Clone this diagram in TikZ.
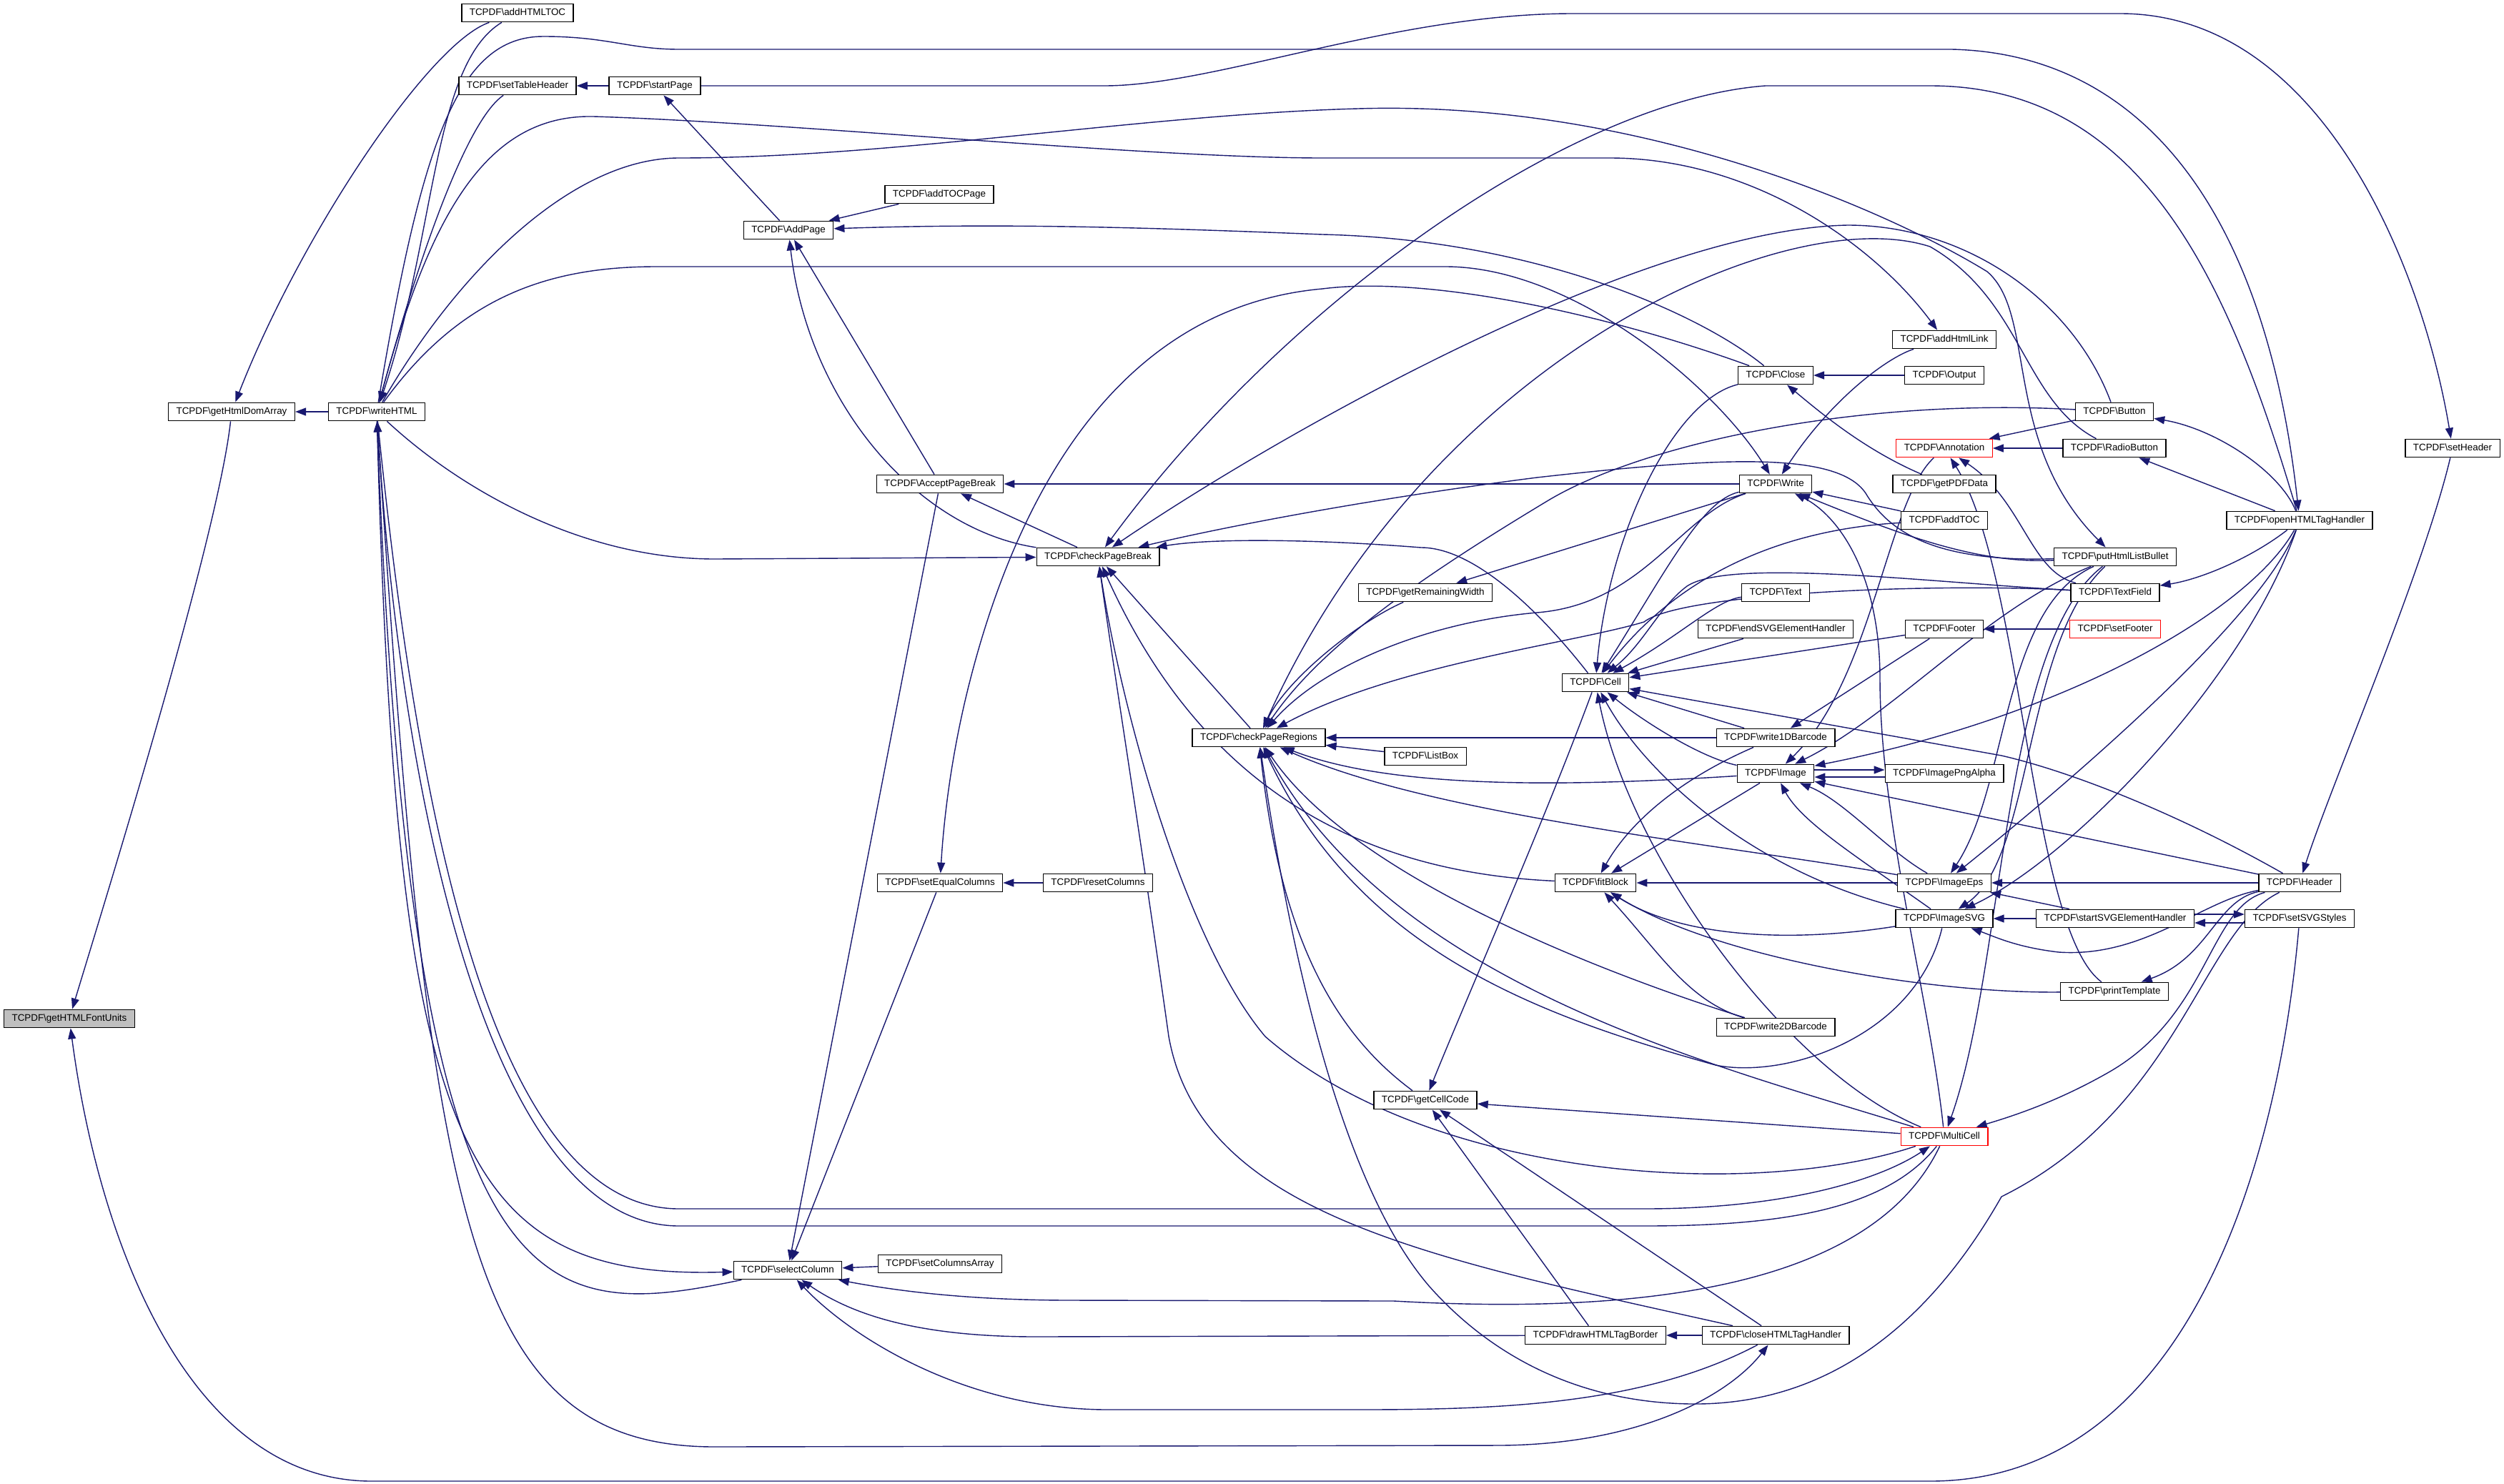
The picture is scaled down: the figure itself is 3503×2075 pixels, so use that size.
\documentclass[tikz,border=0pt]{standalone}
\usepackage{fontspec}
\setmainfont{Liberation Sans}
\usetikzlibrary{arrows.meta}
\definecolor{edgeblue}{HTML}{191970}
\definecolor{rootgray}{HTML}{BFBFBF}
\newcommand\nodefont{\fontsize{13.4}{16}\selectfont}
\newcommand\bs{\textbackslash}
\pgfdeclarelayer{bglayer}
\pgfdeclarelayer{edges}
\pgfsetlayers{bglayer,edges,main}
\tikzset{
  fn/.style={draw=black, line width=1.3pt, fill=white, font=\nodefont, inner xsep=11pt, inner ysep=0pt, minimum height=25.5pt, text height=9.6pt, text depth=2.8pt},
  root/.style={fn, fill=rootgray},
  trunc/.style={fn, draw=red},
  e/.style={draw=edgeblue, line width=1.4pt, -{Triangle[length=15pt,width=11pt]}}
}
\begin{document}
\begin{tikzpicture}[x=1pt,y=-1pt]
\useasboundingbox (0,0) rectangle (3503,2075);
\begin{pgfonlayer}{bglayer}
\fill[white] (0,0) rectangle (3503,2075);
\end{pgfonlayer}
% nodes
\node[root] (FU) at (97,1425) {TCPDF\bs getHTMLFontUnits};
\node[fn] (DOM) at (324,576) {TCPDF\bs getHtmlDomArray};
\node[fn] (WH) at (527,576) {TCPDF\bs writeHTML};
\node[fn] (TOC) at (724,18) {TCPDF\bs addHTMLTOC};
\node[fn] (STH) at (724,120) {TCPDF\bs setTableHeader};
\node[fn] (SP) at (916,120) {TCPDF\bs startPage};
\node[fn] (ATP) at (1314,272) {TCPDF\bs addTOCPage};
\node[fn] (AP) at (1103,322) {TCPDF\bs AddPage};
\node[fn] (APB) at (1315,677) {TCPDF\bs AcceptPageBreak};
\node[fn] (CPB) at (1536,779) {TCPDF\bs checkPageBreak};
\node[fn] (CPR) at (1761,1032) {TCPDF\bs checkPageRegions};
\node[fn] (SEC) at (1315,1235) {TCPDF\bs setEqualColumns};
\node[fn] (RC) at (1536,1235) {TCPDF\bs resetColumns};
\node[fn] (SC) at (1102,1777) {TCPDF\bs selectColumn};
\node[fn] (SCA) at (1315,1768) {TCPDF\bs setColumnsArray};
\node[fn] (GRW) at (1994,829) {TCPDF\bs getRemainingWidth};
\node[fn] (LB) at (1994,1058) {TCPDF\bs ListBox};
\node[fn] (GCC) at (1994,1539) {TCPDF\bs getCellCode};
\node[fn] (DHB) at (2232,1868) {TCPDF\bs drawHTMLTagBorder};
\node[fn] (CHT) at (2484,1868) {TCPDF\bs closeHTMLTagHandler};
\node[fn] (CELL) at (2232,955) {TCPDF\bs Cell};
\node[fn] (FB) at (2232,1235) {TCPDF\bs fitBlock};
\node[fn] (W2D) at (2484,1437) {TCPDF\bs write2DBarcode};
\node[fn] (CL) at (2484,525) {TCPDF\bs Close};
\node[fn] (WR) at (2484,677) {TCPDF\bs Write};
\node[fn] (TX) at (2484,829) {TCPDF\bs Text};
\node[fn] (ESV) at (2484,880) {TCPDF\bs endSVGElementHandler};
\node[fn] (W1D) at (2484,1032) {TCPDF\bs write1DBarcode};
\node[fn] (IMG) at (2484,1082) {TCPDF\bs Image};
\node[fn] (AHL) at (2720,475) {TCPDF\bs addHtmlLink};
\node[fn] (OUT) at (2720,525) {TCPDF\bs Output};
\node[trunc] (ANN) at (2720,627) {TCPDF\bs Annotation};
\node[fn] (PDF) at (2720,677) {TCPDF\bs getPDFData};
\node[fn] (ATOC) at (2720,728) {TCPDF\bs addTOC};
\node[fn] (FT) at (2720,880) {TCPDF\bs Footer};
\node[fn] (PNG) at (2720,1082) {TCPDF\bs ImagePngAlpha};
\node[fn] (EPS) at (2720,1235) {TCPDF\bs ImageEps};
\node[fn] (SVG) at (2720,1285) {TCPDF\bs ImageSVG};
\node[trunc] (MC) at (2720,1590) {TCPDF\bs MultiCell};
\node[fn] (BTN) at (2958,576) {TCPDF\bs Button};
\node[fn] (RB) at (2958,627) {TCPDF\bs RadioButton};
\node[fn] (PHL) at (2959,779) {TCPDF\bs putHtmlListBullet};
\node[fn] (TF) at (2959,829) {TCPDF\bs TextField};
\node[trunc] (SF) at (2959,880) {TCPDF\bs setFooter};
\node[fn] (SSV) at (2959,1285) {TCPDF\bs startSVGElementHandler};
\node[fn] (PT) at (2958,1387) {TCPDF\bs printTemplate};
\node[fn] (OHT) at (3217,728) {TCPDF\bs openHTMLTagHandler};
\node[fn] (HD) at (3217,1235) {TCPDF\bs Header};
\node[fn] (SSS) at (3217,1285) {TCPDF\bs setSVGStyles};
\node[fn] (SH) at (3431,627) {TCPDF\bs setHeader};
% edges
\begin{pgfonlayer}{edges}
\draw[e] (DOM) .. controls (305,750) and (150,1250) .. (FU);
\draw[e] (SSS) .. controls (3185,1650) and (3050,2072) .. (2700,2072) -- (520,2072) .. controls (270,2072) and (140,1750) .. (FU);
\draw[e] (WH) -- (DOM);
\draw[e] (TOC) .. controls (600,60) and (420,330) .. (DOM);
\draw[e] (TOC) .. controls (605,90) and (610,330) .. (WH);
\draw[e] (STH) .. controls (650,170) and (580,380) .. (WH);
\draw[e] (SP) -- (STH);
\draw[e] (SP) -- (1545,120) .. controls (1700,120) and (1950,19) .. (2200,19) -- (2966,19) .. controls (3250,19) and (3390,380) .. (SH);
\draw[e] (AP) -- (SP);
\draw[e] (ATP) -- (AP);
\draw[e] (CL) .. controls (2380,440) and (2150,335) .. (1850,328) .. controls (1600,318) and (1400,312) .. (AP);
\draw[e] (APB) -- (AP);
\draw[e] (CPB) .. controls (1280,740) and (1130,560) .. (AP);
\draw[e] (WR) -- (APB);
\draw[e] (CPB) -- (APB);
\draw[e] (APB) -- (SC);
\draw[e] (CL) .. controls (2250,440) and (2000,385) .. (1850,404) .. controls (1560,430) and (1420,700) .. (1355,960) .. controls (1330,1060) and (1320,1150) .. (SEC);
\draw[e] (RC) -- (SEC);
\draw[e] (SEC) -- (SC);
\draw[e] (SCA) -- (SC);
\draw[e] (WH) .. controls (555,1600) and (640,1790) .. (SC);
\draw[e] (SC) .. controls (750,1850) and (575,1850) .. (WH);
\draw[e] (MC) .. controls (2620,1800) and (2300,1840) .. (1950,1820) -- (1500,1819) .. controls (1350,1819) and (1250,1805) .. (SC);
\draw[e] (DHB) -- (1450,1870) .. controls (1300,1870) and (1200,1845) .. (SC);
\draw[e] (CHT) .. controls (2300,1965) and (2100,1972) .. (1900,1972) -- (1550,1972) .. controls (1350,1972) and (1190,1870) .. (SC);
\draw[e] (WH) .. controls (600,1700) and (650,2024) .. (1000,2024) -- (2100,2022) .. controls (2300,2020) and (2420,1950) .. (CHT);
\draw[e] (CHT) -- (DHB);
\draw[e] (WH) .. controls (580,1100) and (680,1691) .. (950,1691) -- (2300,1691) .. controls (2500,1691) and (2630,1650) .. (MC);
\draw[e] (MC) .. controls (2640,1690) and (2500,1715) .. (2300,1715) -- (950,1715) .. controls (680,1715) and (560,1100) .. (WH);
\draw[e] (WH) .. controls (650,690) and (820,782) .. (1000,782) -- (CPB);
\draw[e] (WH) .. controls (590,200) and (640,51) .. (760,51) .. controls (850,51) and (880,69) .. (950,69) -- (2730,69) .. controls (3000,75) and (3170,300) .. (OHT);
\draw[e] (WH) .. controls (600,300) and (680,160) .. (830,163) .. controls (1100,171) and (1600,221) .. (1850,221) -- (2252,221) .. controls (2450,221) and (2620,340) .. (AHL);
\draw[e] (WH) .. controls (640,380) and (800,221) .. (950,221) .. controls (1250,221) and (1600,160) .. (1900,152) .. controls (2300,140) and (2650,300) .. (2780,380) .. controls (2850,440) and (2800,620) .. (PHL);
\draw[e] (WH) .. controls (640,420) and (760,373) .. (918,373) -- (2022,373) .. controls (2200,373) and (2400,540) .. (WR);
\draw[e] (OHT) .. controls (3120,400) and (3000,120) .. (2700,120) -- (2470,120) .. controls (2200,140) and (1800,420) .. (CPB);
\draw[e] (BTN) .. controls (2900,420) and (2750,315) .. (2585,315) .. controls (2300,320) and (1800,600) .. (CPB);
\draw[e] (PHL) .. controls (2700,787) and (2640,740) .. (2610,690) .. controls (2570,630) and (2400,640) .. (2150,668) .. controls (1900,700) and (1700,740) .. (CPB);
\draw[e] (CELL) .. controls (2150,850) and (2060,766) .. (1988,766) .. controls (1850,755) and (1700,752) .. (CPB);
\draw[e] (CPR) -- (CPB);
\draw[e] (FB) .. controls (1900,1220) and (1680,1100) .. (CPB);
\draw[e] (CHT) .. controls (2000,1760) and (1680,1700) .. (1635,1450) .. controls (1600,1200) and (1560,950) .. (CPB);
\draw[e] (MC) .. controls (2450,1680) and (2000,1650) .. (1770,1450) .. controls (1660,1320) and (1570,1000) .. (CPB);
\draw[e] (MC) .. controls (2400,1490) and (1950,1380) .. (CPR);
\draw[e] (GRW) .. controls (1900,870) and (1800,950) .. (CPR);
\draw[e] (LB) -- (CPR);
\draw[e] (WR) -- (GRW);
\draw[e] (W1D) -- (CPR);
\draw[e] (IMG) .. controls (2200,1100) and (1950,1105) .. (CPR);
\draw[e] (EPS) .. controls (2400,1180) and (2000,1140) .. (CPR);
\draw[e] (SVG) .. controls (2680,1450) and (2500,1510) .. (2400,1490) .. controls (2150,1420) and (1900,1330) .. (CPR);
\draw[e] (W2D) .. controls (2300,1380) and (1900,1240) .. (CPR);
\draw[e] (GCC) .. controls (1860,1440) and (1790,1300) .. (CPR);
\draw[e] (HD) .. controls (3080,1300) and (3050,1550) .. (2800,1674) .. controls (2700,1850) and (2560,1966) .. (2366,1964) .. controls (2200,1962) and (2080,1890) .. (2000,1800) .. controls (1870,1650) and (1800,1300) .. (CPR);
\draw[e] (WR) .. controls (2350,720) and (2300,845) .. (2150,857) .. controls (2000,870) and (1850,930) .. (CPR);
\draw[e] (BTN) .. controls (2600,556) and (2300,620) .. (2166,700) .. controls (2000,800) and (1850,900) .. (CPR);
\draw[e] (RB) .. controls (2830,560) and (2830,420) .. (2700,345) .. controls (2500,280) and (2000,500) .. (CPR);
\draw[e] (TF) .. controls (2700,815) and (2350,830) .. (2300,870) .. controls (2200,900) and (1950,930) .. (CPR);
\draw[e] (OUT) -- (CL);
\draw[e] (PDF) .. controls (2610,630) and (2550,580) .. (CL);
\draw[e] (CL) .. controls (2340,560) and (2250,750) .. (CELL);
\draw[e] (AHL) .. controls (2640,500) and (2560,560) .. (WR);
\draw[e] (ATOC) -- (WR);
\draw[e] (PHL) .. controls (2760,790) and (2640,740) .. (WR);
\draw[e] (MC) .. controls (2700,1400) and (2630,1150) .. (2630,950) .. controls (2630,800) and (2570,720) .. (WR);
\draw[e] (WR) .. controls (2380,700) and (2330,800) .. (CELL);
\draw[e] (TX) .. controls (2400,840) and (2350,890) .. (CELL);
\draw[e] (ESV) -- (CELL);
\draw[e] (FT) -- (CELL);
\draw[e] (SF) -- (FT);
\draw[e] (W1D) -- (CELL);
\draw[e] (IMG) .. controls (2380,1060) and (2300,1010) .. (CELL);
\draw[e] (FT) -- (W1D);
\draw[e] (ATOC) .. controls (2500,740) and (2350,800) .. (CELL);
\draw[e] (TF) .. controls (2700,815) and (2420,780) .. (2360,820) .. controls (2320,850) and (2300,900) .. (CELL);
\draw[e] (HD) .. controls (3050,1140) and (2900,1080) .. (2800,1057) -- (CELL);
\draw[e] (SVG) .. controls (2450,1220) and (2300,1080) .. (CELL);
\draw[e] (MC) .. controls (2500,1500) and (2280,1200) .. (CELL);
\draw[e] (CELL) .. controls (2160,1150) and (2050,1400) .. (GCC);
\draw[e] (MC) -- (GCC);
\draw[e] (DHB) -- (GCC);
\draw[e] (CHT) -- (GCC);
\draw[e] ([yshift=5pt]IMG.east) -- ([yshift=5pt]PNG.west);
\draw[e] ([yshift=-5pt]PNG.west) -- ([yshift=-5pt]IMG.east);
\draw[e] (SVG) .. controls (2600,1200) and (2520,1150) .. (IMG);
\draw[e] (EPS) .. controls (2640,1190) and (2580,1120) .. (IMG);
\draw[e] (IMG) -- (FB);
\draw[e] (EPS) -- (FB);
\draw[e] (SVG) .. controls (2500,1320) and (2350,1310) .. (FB);
\draw[e] (W1D) .. controls (2350,1090) and (2280,1150) .. (FB);
\draw[e] (W2D) .. controls (2360,1400) and (2320,1330) .. (FB);
\draw[e] (PT) .. controls (2700,1390) and (2400,1340) .. (FB);
\draw[e] (PHL) .. controls (2800,850) and (2810,1100) .. (EPS);
\draw[e] (OHT) .. controls (3170,850) and (2950,1050) .. (EPS);
\draw[e] (HD) -- (EPS);
\draw[e] (SSV) -- (EPS);
\draw[e] (SSV) -- (SVG);
\draw[e] (OHT) .. controls (3140,950) and (2900,1200) .. (SVG);
\draw[e] (HD) .. controls (3080,1260) and (3000,1340) .. (2880,1332) .. controls (2820,1325) and (2790,1310) .. (SVG);
\draw[e] (PHL) .. controls (2830,900) and (2845,1200) .. (SVG);
\draw[e] (PHL) .. controls (2800,900) and (2805,1350) .. (MC);
\draw[e] (PHL) .. controls (2780,850) and (2650,1000) .. (IMG);
\draw[e] (OHT) .. controls (3150,850) and (2900,1000) .. (IMG);
\draw[e] (HD) -- (IMG);
\draw[e] (ANN) .. controls (2640,700) and (2620,950) .. (IMG);
\draw[e] (HD) .. controls (3090,1270) and (3090,1420) .. (2950,1500) .. controls (2880,1540) and (2820,1560) .. (MC);
\draw[e] (HD) .. controls (3100,1260) and (3090,1340) .. (PT);
\draw[e] ([yshift=6pt]SSV.east) -- ([yshift=6pt]SSS.west);
\draw[e] ([yshift=-6pt]SSS.west) -- ([yshift=-6pt]SSV.east);
\draw[e] (OHT) .. controls (3150,780) and (3080,810) .. (TF);
\draw[e] (OHT) -- (RB);
\draw[e] (OHT) .. controls (3190,660) and (3100,600) .. (BTN);
\draw[e] (BTN) -- (ANN);
\draw[e] (RB) -- (ANN);
\draw[e] (TF) .. controls (2840,800) and (2830,700) .. (ANN);
\draw[e] (PT) .. controls (2840,1300) and (2830,800) .. (ANN);
\draw[e] (SH) .. controls (3390,800) and (3260,1100) .. (HD);
\end{pgfonlayer}
\end{tikzpicture}
\end{document}
